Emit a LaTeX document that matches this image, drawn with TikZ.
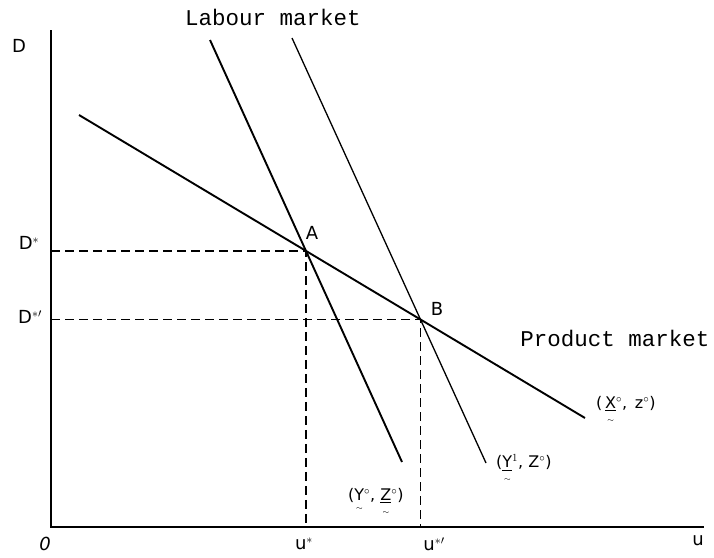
\documentclass[tikz,border=0pt]{standalone}
\usepackage{amsmath}
\usepackage{fontspec}
\setmainfont{DejaVu Sans}
\newfontfamily\typed{Liberation Mono}
\usetikzlibrary{calc}
\newcommand{\vtil}[1]{\ensuremath{\underset{\scriptscriptstyle\sim}{#1}}}
\newcommand{\ul}[1]{\ensuremath{\underline{\text{#1}}}}
\newcommand{\tx}[1]{\ensuremath{\text{#1}}}
\begin{document}
\begin{tikzpicture}[x=1pt,y=-1pt,
  axis/.style={line width=2.4pt},
  thickline/.style={line width=1.9pt},
  thinline/.style={line width=1.3pt},
  guide/.style={line width=1.7pt,dash pattern=on 9pt off 5pt},
  hand/.style={font=\fontsize{18}{20}\selectfont, inner sep=0pt},
  small/.style={font=\fontsize{16}{18}\selectfont, inner sep=0pt},
  typedlbl/.style={font=\typed\fontsize{22.5}{24}\selectfont, inner sep=0pt}]
\useasboundingbox (0,0) rectangle (714,557);
% axes
\coordinate (O) at (51,527);
\coordinate (Ytop) at (51,30);
\coordinate (Xend) at (704,527);
\draw[axis] (Ytop) -- (O) -- (Xend);
% product market line
\coordinate (P1) at (79,115);
\coordinate (P2) at (585,418);
\draw[thickline] (P1) -- (P2);
% labour market lines
\coordinate (L1a) at (210,40);
\coordinate (L1b) at (402,462);
\draw[thickline] (L1a) -- (L1b);
\coordinate (L2a) at (292,38);
\coordinate (L2b) at (486,463);
\draw[thinline] (L2a) -- (L2b);
% intersections
\coordinate (A) at (intersection of P1--P2 and L1a--L1b);
\coordinate (B) at (intersection of P1--P2 and L2a--L2b);
\coordinate (DA) at (O |- A);
\coordinate (DB) at (O |- B);
\coordinate (UA) at (A |- O);
\coordinate (UB) at (B |- O);
% dashed guides
\draw[guide] (DA) -- (A) -- (UA);
\draw[guide] (DB) -- (B) -- (UB);
% labels
\node[hand] (lD) at (19,46) {D};
\node[hand] (lDs) at (29,243) {D$^{*}$};
\node[hand] (lDsp) at (30,317) {D$^{*\prime}$};
\node[hand] (lA) at (312,233) {A};
\node[hand] (lB) at (437,309) {B};
\node[hand] (l0) at (45,544) {\itshape 0};
\node[hand] (lus) at (304,544) {u$^{*}$};
\node[hand] (lusp) at (434,544) {u$^{*\prime}$};
\node[hand] (lu) at (698,541) {u};
\node[typedlbl] (lab) at (273,17) {Labour market};
\node[typedlbl] (prod) at (615,338) {Product market};
\node[small, anchor=west] (xz) at (596,410) {(\,\vtil{\ul{X}}$^{\circ}$,\, z$^{\circ}$)};
\node[small, anchor=west] (y1) at (496,469) {(\vtil{\ul{Y}}$^{1}$, Z$^{\circ}$)};
\node[small, anchor=west] (y0) at (348,502) {(\vtil{\tx{Y}}$^{\circ}$, \vtil{\ul{Z}}$^{\circ}$)};
\end{tikzpicture}
\end{document}
